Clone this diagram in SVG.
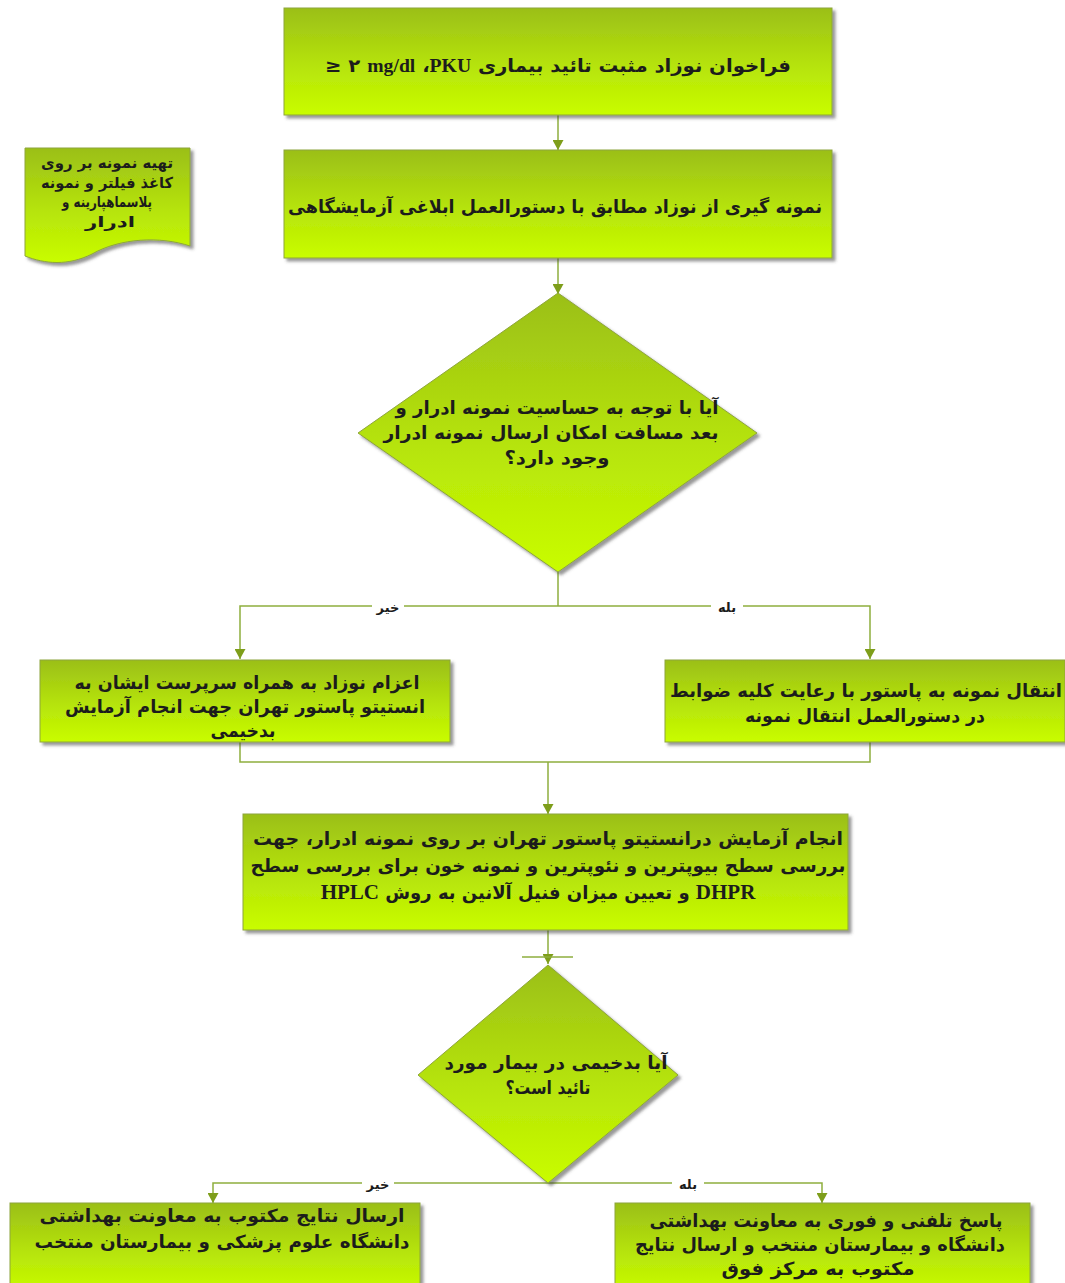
<svg xmlns="http://www.w3.org/2000/svg" width="1065" height="1283" viewBox="0 0 1065 1283">
<defs>
<linearGradient id="g" x1="0" y1="0" x2="0" y2="1">
<stop offset="0" stop-color="#9bbf18"/>
<stop offset="0.55" stop-color="#b6e40a"/>
<stop offset="1" stop-color="#c9fd00"/>
</linearGradient>
<filter id="sh" x="-5%" y="-5%" width="115%" height="120%">
<feDropShadow dx="3" dy="3" stdDeviation="1.5" flood-color="#444" flood-opacity="0.55"/>
</filter>
<marker id="ah" markerWidth="10" markerHeight="11" refX="10" refY="5.5" orient="auto" markerUnits="userSpaceOnUse" viewBox="0 0 10 11">
<path d="M0,0 L10,5.5 L0,11 Z" fill="#7e9e1a"/>
</marker>
</defs>
<style>
.n{fill:url(#g);stroke:#8ea53c;stroke-width:1;filter:url(#sh)}
.t{font-family:"DejaVu Sans",sans-serif;font-weight:bold;font-size:18px;fill:#1c1c1c;text-anchor:middle}
.s{font-size:15px}
.lat{font-family:"Liberation Serif",serif;font-weight:bold}
.c{fill:none;stroke:#8eae3e;stroke-width:1.5}
.lb{font-family:"DejaVu Sans",sans-serif;font-weight:bold;font-size:13px;fill:#1c1c1c;text-anchor:middle}
</style>
<rect width="1065" height="1283" fill="#ffffff"/>

<g id="connectors">
<line class="c" x1="558" y1="115" x2="558" y2="150" marker-end="url(#ah)"/>
<line class="c" x1="558" y1="258" x2="558" y2="294" marker-end="url(#ah)"/>
<path class="c" d="M558,572 V606"/>
<path class="c" d="M558,606 H240 V659" marker-end="url(#ah)"/>
<path class="c" d="M558,606 H870 V659" marker-end="url(#ah)"/>
<path class="c" d="M240,742 V762 H870 V742"/>
<line class="c" x1="548" y1="762" x2="548" y2="814" marker-end="url(#ah)"/>
<line class="c" x1="548" y1="930" x2="548" y2="964" marker-end="url(#ah)"/>
<line class="c" x1="522" y1="957" x2="573" y2="957"/>
<path class="c" d="M548,1183 H213 V1203" marker-end="url(#ah)"/>
<path class="c" d="M548,1183 H822 V1203" marker-end="url(#ah)"/>
<rect x="372" y="600" width="32" height="14" fill="#ffffff"/>
<text class="lb" x="388" y="612">خیر</text>
<rect x="711" y="600" width="32" height="14" fill="#ffffff"/>
<text class="lb" x="727" y="612">بله</text>
<rect x="362" y="1177" width="32" height="14" fill="#ffffff"/>
<text class="lb" x="378" y="1189">خیر</text>
<rect x="672" y="1177" width="32" height="14" fill="#ffffff"/>
<text class="lb" x="688" y="1189">بله</text>
</g>

<g id="n1">
<rect class="n" x="284" y="8" width="548" height="107"/>
<text class="t" x="558" y="72" direction="rtl" font-size="20" textLength="466" lengthAdjust="spacingAndGlyphs">فراخوان نوزاد مثبت تائید بیماری <tspan class="lat">PKU</tspan>‏، <tspan class="lat">mg/dl</tspan>‏ ۲‏ ≤</text>
</g>

<g id="n_doc">
<path class="n" d="M25,148 H190 V246 C160,236 120,238 92,254 C68,266 45,264 25,256 Z"/>
<text class="t s" x="107" y="168" direction="rtl" textLength="132" lengthAdjust="spacingAndGlyphs">تهیه نمونه بر روی</text>
<text class="t s" x="107" y="188" direction="rtl" textLength="132" lengthAdjust="spacingAndGlyphs">کاغذ فیلتر و نمونه</text>
<text class="t s" x="107" y="207" direction="rtl" textLength="90" lengthAdjust="spacingAndGlyphs">پلاسماهپارینه و</text>
<text class="t s" x="110" y="227" direction="rtl" textLength="50" lengthAdjust="spacingAndGlyphs">ادرار</text>
</g>

<g id="n2">
<rect class="n" x="284" y="150" width="548" height="108"/>
<text class="t" x="555" y="213" direction="rtl" textLength="534" lengthAdjust="spacingAndGlyphs">نمونه گیری از نوزاد مطابق با دستورالعمل ابلاغی  آزمایشگاهی</text>
</g>

<g id="d1">
<path class="n" d="M558,293 L757,433 L558,572 L358,433 Z"/>
<text class="t" x="557" y="414" direction="rtl" textLength="323" lengthAdjust="spacingAndGlyphs">آیا با توجه به حساسیت نمونه ادرار و</text>
<text class="t" x="551" y="439" direction="rtl" textLength="335" lengthAdjust="spacingAndGlyphs">بعد مسافت امکان ارسال نمونه ادرار</text>
<text class="t" x="557" y="464" direction="rtl" textLength="105" lengthAdjust="spacingAndGlyphs">وجود دارد؟</text>
</g>

<g id="n3">
<rect class="n" x="40" y="660" width="410" height="82"/>
<text class="t" x="247" y="689" direction="rtl" textLength="345" lengthAdjust="spacingAndGlyphs">اعزام نوزاد به همراه سرپرست ایشان به</text>
<text class="t" x="245" y="713" direction="rtl" textLength="360" lengthAdjust="spacingAndGlyphs">انستیتو پاستور تهران جهت انجام  آزمایش</text>
<text class="t" x="243" y="737" direction="rtl" textLength="65" lengthAdjust="spacingAndGlyphs">بدخیمی</text>
</g>

<g id="n4">
<rect class="n" x="665" y="660" width="400" height="82"/>
<text class="t" x="866" y="697" direction="rtl" textLength="392" lengthAdjust="spacingAndGlyphs">انتقال نمونه به پاستور با رعایت کلیه ضوابط</text>
<text class="t" x="865" y="722" direction="rtl" textLength="240" lengthAdjust="spacingAndGlyphs">در دستورالعمل انتقال نمونه</text>
</g>

<g id="n5">
<rect class="n" x="243" y="814" width="605" height="116"/>
<text class="t" x="548" y="845" direction="rtl" textLength="590" lengthAdjust="spacingAndGlyphs">انجام  آزمایش درانستیتو پاستور تهران بر روی نمونه ادرار، جهت</text>
<text class="t" x="548" y="872" direction="rtl" textLength="595" lengthAdjust="spacingAndGlyphs">بررسی سطح بیوپترین و نئوپترین و نمونه خون برای بررسی سطح</text>
<text class="t" x="538" y="899" direction="rtl"><tspan class="lat" font-size="21">DHPR</tspan> و تعیین میزان فنیل آلانین به روش <tspan class="lat" font-size="21">HPLC</tspan></text>
</g>

<g id="d2">
<path class="n" d="M548,965 L678,1075 L548,1183 L418,1075 Z"/>
<text class="t" x="556" y="1069" direction="rtl" textLength="223" lengthAdjust="spacingAndGlyphs">آیا بدخیمی در بیمار مورد</text>
<text class="t" x="548" y="1094" direction="rtl" textLength="85" lengthAdjust="spacingAndGlyphs">تائید است؟</text>
</g>

<g id="n6">
<rect class="n" x="10" y="1203" width="410" height="90"/>
<text class="t" x="222" y="1222" direction="rtl" textLength="365" lengthAdjust="spacingAndGlyphs">ارسال نتایج مکتوب به معاونت بهداشتی</text>
<text class="t" x="222" y="1248" direction="rtl" textLength="375" lengthAdjust="spacingAndGlyphs">دانشگاه علوم پزشکی و بیمارستان منتخب</text>
</g>

<g id="n7">
<rect class="n" x="615" y="1203" width="415" height="90"/>
<text class="t" x="826" y="1227" direction="rtl" textLength="353" lengthAdjust="spacingAndGlyphs">پاسخ تلفنی و فوری به معاونت بهداشتی</text>
<text class="t" x="820" y="1251" direction="rtl" textLength="370" lengthAdjust="spacingAndGlyphs">دانشگاه و بیمارستان منتخب و ارسال نتایج</text>
<text class="t" x="818" y="1275" direction="rtl" textLength="193" lengthAdjust="spacingAndGlyphs">مکتوب به مرکز فوق</text>
</g>
</svg>
